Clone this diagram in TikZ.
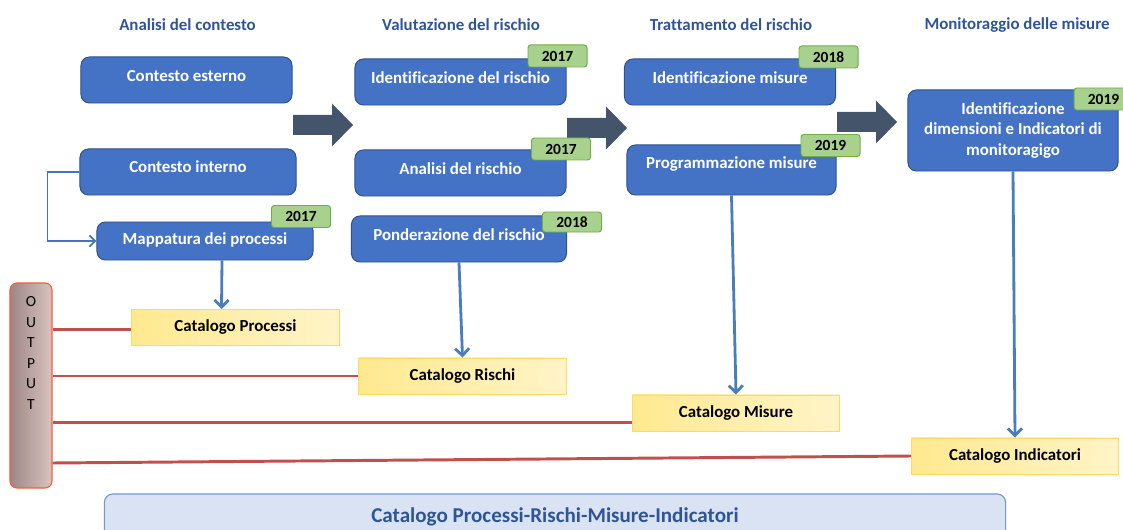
\documentclass[tikz,border=0pt]{standalone}
\usepackage{fontspec}
\setmainfont{Carlito}[Ligatures=NoCommon]
\usetikzlibrary{calc, arrows.meta}
\definecolor{boxblue}{HTML}{4472C4}
\definecolor{boxedge}{HTML}{2F528F}
\definecolor{headblue}{HTML}{2F5597}
\definecolor{tagfill}{HTML}{A9D18E}
\definecolor{tagedge}{HTML}{70AD47}
\definecolor{arrowdark}{HTML}{44546A}
\definecolor{linkblue}{HTML}{4A7EBB}
\definecolor{outred}{HTML}{C0504D}
\definecolor{catleft}{HTML}{FFE98F}
\definecolor{catright}{HTML}{FFF4C8}
\definecolor{catedge}{HTML}{FFD966}
\definecolor{outleft}{HTML}{9C8787}
\definecolor{outright}{HTML}{D9C3BE}
\definecolor{outedge}{HTML}{F2603A}
\definecolor{allfill}{HTML}{DAE3F3}
\definecolor{alledge}{HTML}{7397D6}
\tikzset{
    bigarrow/.pic={
        \fill[arrowdark] (0,-10)--(39,-10)--(39,-21.5)--(60,0)--(39,21.5)--(39,10)--(0,10)--cycle;
    },
    phase/.style={text=headblue, font=\bfseries\fontsize{12}{14}\selectfont},
    bluebox/.style={draw=boxedge, line width=0.7pt, fill=boxblue, rounded corners=6pt, text=white,
        font=\bfseries\fontsize{12}{14.6}\selectfont, align=center, inner sep=1pt,
        minimum width=5.275cm, minimum height=1.15cm},
    lift/.style={text height=8pt, text depth=#1},
    lift/.default=6pt,
    yeartag/.style={draw=tagedge, line width=0.7pt, fill=tagfill, rounded corners=2pt,
        font=\bfseries\fontsize{11}{12}\selectfont, inner sep=0pt,
        minimum width=1.475cm, minimum height=0.55cm},
    catbox/.style={draw=catedge, line width=0.7pt, left color=catleft, right color=catright,
        font=\bfseries\fontsize{12}{14}\selectfont, inner sep=0pt,
        minimum width=5.175cm, minimum height=0.9cm},
    elbow/.style={draw=boxblue, line width=1.3pt, -{Straight Barb[length=4pt,width=8pt]}},
    down/.style={draw=linkblue, line width=2pt, -{Straight Barb[length=5pt,width=10pt]}},
    outlink/.style={draw=outred, line width=2.1pt},
}

\begin{document}
\begin{tikzpicture}[x=0.025cm,y=-0.025cm]
    \useasboundingbox (0,0) rectangle (1123,530);
    \clip (0,0) rectangle (1123,530);
    % phases
    \node[phase] (H1) at (187.5,25) {Analisi del contesto};
    \node[phase] (H2) at (461,25) {Valutazione del rischio};
    \node[phase] (H3) at (731,25) {Trattamento del rischio};
    \node[phase] (H4) at (1017,25) {Monitoraggio delle misure};
    \pic at (293,125) {bigarrow};
    \pic at (567,128) {bigarrow};
    \pic at (837,122) {bigarrow};
    % steps
    \node[bluebox, lift] (CE) at (186.5,80) {Contesto esterno};
    \node[bluebox, lift=6.6pt, minimum width=5.4cm] (CI) at (188,172) {Contesto interno};
    \node[bluebox, lift=2.8pt, minimum width=5.4cm, minimum height=0.95cm] (MP) at (205,241) {Mappatura dei processi};
    \node[bluebox, lift=6.5pt] (IR) at (460.5,82) {Identificazione del rischio};
    \node[bluebox, lift=5.8pt] (AR) at (460.5,173) {Analisi del rischio};
    \node[bluebox, lift=5.8pt, minimum width=5.375cm] (PR) at (459,239) {Ponderazione del rischio};
    \node[bluebox, lift] (IM) at (730,82) {Identificazione misure};
    \node[bluebox, lift=10.2pt, minimum width=5.225cm, minimum height=1.25cm] (PM) at (731.5,170) {Programmazione misure};
    \node[bluebox, minimum width=5.25cm, minimum height=2.025cm] (ID) at (1013,130.5) {Identificazione\\dimensioni e Indicatori di\\monitoragigo};
    % years
    \node[yeartag] (Y1) at (301,216.5) {2017};
    \node[yeartag] (Y2) at (557.5,56) {2017};
    \node[yeartag] (Y3) at (561,149) {2017};
    \node[yeartag, minimum height=0.5cm] (Y4) at (572,222) {2018};
    \node[yeartag] (Y5) at (828.5,57) {2018};
    \node[yeartag] (Y6) at (830.5,145.5) {2019};
    \node[yeartag] (Y7) at (1103.5,99) {2019};
    % outputs
    \node[catbox] (KP) at (235.5,327.5) {Catalogo Processi};
    \node[catbox] (KR) at (462.5,376) {Catalogo Rischi};
    \node[catbox] (KM) at (736,413) {Catalogo Misure};
    \node[catbox] (KI) at (1015,456) {Catalogo Indicatori};
    \node[draw=outedge, line width=0.8pt, left color=outleft, right color=outright, rounded corners=5pt,
        minimum width=1.05cm, minimum height=5.125cm] (OUT) at (31,385.5) {};
    \node[anchor=north, align=center, inner sep=0pt, font=\fontsize{11}{14.6}\selectfont] (OUTtxt)
        at ($(OUT.north)+(0,14)$) {O\\U\\T\\P\\U\\T};
    \node[draw=alledge, line width=0.8pt, fill=allfill, rounded corners=6pt, text=headblue,
        font=\bfseries\fontsize{15}{18}\selectfont, minimum width=22.525cm, minimum height=1.15cm] (ALL)
        at (555,517) {Catalogo Processi-Rischi-Misure-Indicatori};
    % links
    \draw[elbow] (CI.west) -- ++(-32,0) |- (MP.west);
    \draw[down] ($(MP.south)+(17,0)$) -- ($(KP.north)+(-14,0)$);
    \draw[down] (PR.south) -- (KR.north);
    \draw[down] (PM.south) -- (KM.north);
    \draw[down] (ID.south) -- (KI.north);
    \draw[outlink] ($(OUT.east |- KP.west)+(0,2)$) -- ($(KP.west)+(0,2)$);
    \draw[outlink] (OUT.east |- KR.west) -- (KR.west);
    \draw[outlink] ($(OUT.east |- KM.west)+(0,9.5)$) -- ($(KM.west)+(0,9.5)$);
    \draw[outlink] ($(OUT.east |- KI.west)+(0,7)$) -- (KI.west);
\end{tikzpicture}
\end{document}
